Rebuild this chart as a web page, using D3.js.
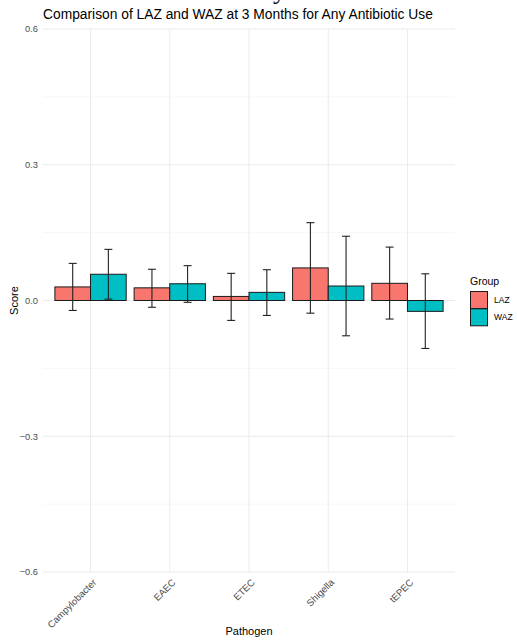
<!DOCTYPE html>
<html>
<head>
<meta charset="utf-8">
<script src="https://cdn.jsdelivr.net/npm/d3@7"></script>
<style>
  html, body { margin: 0; padding: 0; background: #ffffff; }
  svg { display: block; font-family: "Liberation Sans", Arial, sans-serif; }
</style>
</head>
<body>
<svg id="chart" width="517" height="643"></svg>
<script>
// Pathogens on the x axis
const pathogens = ["Campylobacter", "EAEC", "ETEC", "Shigella", "tEPEC"];
const groups = ["LAZ", "WAZ"];
const groupColors = ["#F8766D", "#00BFC4"];

// Mean score per pathogen, one array per group
const lazMean = [0.030, 0.028, 0.009, 0.072, 0.038];
const wazMean = [0.058, 0.037, 0.018, 0.032, -0.024];
// Lower / upper error bar limits
const lazLow  = [-0.022, -0.015, -0.044, -0.028, -0.041];
const lazHigh = [0.082, 0.069, 0.060, 0.172, 0.118];
const wazLow  = [0.003, -0.004, -0.033, -0.078, -0.106];
const wazHigh = [0.113, 0.077, 0.068, 0.142, 0.059];

const yTicks = [-0.6, -0.3, 0.0, 0.3, 0.6];
const yMinor = [-0.45, -0.15, 0.15, 0.45];

const rows = [];
pathogens.forEach((p, i) => {
  rows.push({ pathogen: p, group: "LAZ", mean: lazMean[i], low: lazLow[i], high: lazHigh[i] });
  rows.push({ pathogen: p, group: "WAZ", mean: wazMean[i], low: wazLow[i], high: wazHigh[i] });
});

const svg = d3.select("#chart");
const panel = { left: 43, right: 455, top: 29, bottom: 572 };

// Discrete axis with ggplot-style 0.6 unit expansion on each side
const x = d3.scalePoint()
  .domain(pathogens)
  .range([panel.left, panel.right])
  .padding(0.6);
const step = x.step();

const y = d3.scaleLinear()
  .domain([-0.6, 0.6])
  .range([panel.bottom, panel.top]);

const color = d3.scaleOrdinal().domain(groups).range(groupColors);

// Grid
const grid = svg.append("g");
grid.selectAll("line.minor").data(yMinor).enter().append("line")
  .attr("x1", panel.left).attr("x2", panel.right)
  .attr("y1", d => y(d)).attr("y2", d => y(d))
  .attr("stroke", "#f2f2f2").attr("stroke-width", 0.6);
grid.selectAll("line.major").data(yTicks).enter().append("line")
  .attr("x1", panel.left).attr("x2", panel.right)
  .attr("y1", d => y(d)).attr("y2", d => y(d))
  .attr("stroke", "#ebebeb").attr("stroke-width", 1);
grid.selectAll("line.vx").data(pathogens).enter().append("line")
  .attr("x1", d => x(d)).attr("x2", d => x(d))
  .attr("y1", panel.top).attr("y2", panel.bottom)
  .attr("stroke", "#ebebeb").attr("stroke-width", 1);

// Bars dodged within 0.9 of a category step
const dodge = d3.scaleBand().domain(groups).range([-0.45 * step, 0.45 * step]);

svg.append("g").selectAll("rect").data(rows).enter().append("rect")
  .attr("x", d => x(d.pathogen) + dodge(d.group))
  .attr("width", dodge.bandwidth())
  .attr("y", d => y(Math.max(0, d.mean)))
  .attr("height", d => Math.abs(y(d.mean) - y(0)))
  .attr("fill", d => color(d.group))
  .attr("stroke", "#1a1a1a")
  .attr("stroke-width", 1);

// Error bars
const capHalf = 4;
const eb = svg.append("g").attr("stroke", "#222").attr("stroke-width", 1.1);
rows.forEach(d => {
  const cx = x(d.pathogen) + dodge(d.group) + dodge.bandwidth() / 2;
  eb.append("line").attr("x1", cx).attr("x2", cx).attr("y1", y(d.low)).attr("y2", y(d.high));
  eb.append("line").attr("x1", cx - capHalf).attr("x2", cx + capHalf).attr("y1", y(d.low)).attr("y2", y(d.low));
  eb.append("line").attr("x1", cx - capHalf).attr("x2", cx + capHalf).attr("y1", y(d.high)).attr("y2", y(d.high));
});

// Y axis labels
const yAxis = d3.axisLeft(y).tickValues(yTicks).tickSize(0).tickPadding(5).tickFormat(d3.format(".1f"));
const ya = svg.append("g").attr("transform", `translate(${panel.left},0)`).call(yAxis);
ya.select(".domain").remove();
ya.selectAll("text").attr("font-size", 9.3).attr("fill", "#4d4d4d")
  .attr("font-family", "Liberation Sans, Arial, sans-serif");

// X axis labels, rotated 45 degrees
const xAxis = d3.axisBottom(x).tickSize(0).tickPadding(0);
const xa = svg.append("g").attr("transform", `translate(0,${panel.bottom})`).call(xAxis);
xa.select(".domain").remove();
xa.selectAll("text")
  .attr("font-size", 9.6).attr("fill", "#4d4d4d")
  .attr("font-family", "Liberation Sans, Arial, sans-serif")
  .attr("text-anchor", "end")
  .attr("dy", null)
  .attr("y", 0)
  .attr("transform", "translate(6,11) rotate(-45)");

// Axis titles
svg.append("text").attr("x", (panel.left + panel.right) / 2).attr("y", 635)
  .attr("text-anchor", "middle").attr("font-size", 11).attr("fill", "#000")
  .text("Pathogen");
svg.append("text").attr("transform", `translate(18,${y(0)}) rotate(-90)`)
  .attr("text-anchor", "middle").attr("font-size", 11).attr("fill", "#000")
  .text("Score");

// Title
svg.append("text").attr("x", panel.left).attr("y", 19)
  .attr("font-size", 13.8).attr("fill", "#000")
  .text("Comparison of LAZ and WAZ at 3 Months for Any Antibiotic Use");

// Descender of a larger heading above the frame
svg.append("text").attr("x", 273).attr("y", -1)
  .attr("font-family", "Liberation Serif, Times New Roman, serif")
  .attr("font-size", 26).attr("fill", "#000")
  .text("y");

// Legend
const lg = svg.append("g").attr("transform", "translate(470,285)");
lg.append("text").attr("x", 0).attr("y", 0).attr("font-size", 10.5).attr("fill", "#000").text("Group");
groups.forEach((g, i) => {
  lg.append("rect").attr("x", 0.5).attr("y", 6.5 + i * 17.3)
    .attr("width", 17).attr("height", 17)
    .attr("fill", color(g)).attr("stroke", "#1a1a1a").attr("stroke-width", 1);
  lg.append("text").attr("x", 24).attr("y", 18 + i * 17.3)
    .attr("font-size", 8.5).attr("fill", "#000").text(g);
});
</script>
</body>
</html>
